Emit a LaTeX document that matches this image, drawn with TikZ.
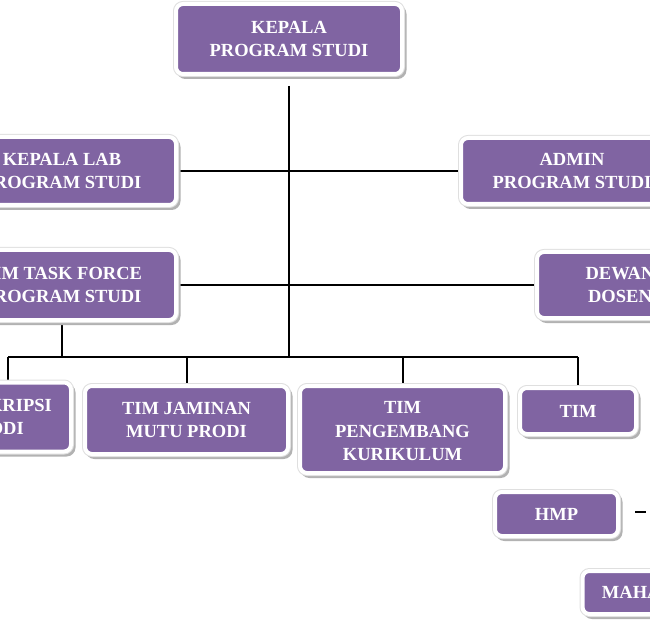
\documentclass[tikz,border=0pt]{standalone}
\usepackage{fontspec}
\setmainfont{Liberation Serif}
\usetikzlibrary{shadows,backgrounds}
\definecolor{purp}{HTML}{8064A2}
\begin{document}
\begin{tikzpicture}[x=1pt,y=-1pt,
  orgbox/.style={rounded corners=7pt, fill=purp, draw=white, line width=4pt,
    text=white, font=\fontsize{18.5}{23}\selectfont\bfseries, align=center, inner sep=0pt,
    general shadow={fill=gray!60, draw=gray!60, line width=4pt, shadow xshift=2.5pt, shadow yshift=-3pt},
    preaction={draw=gray!25, line width=6pt}},
  link/.style={line width=2pt, black}]
\useasboundingbox (0,0) rectangle (650,620);

\node[orgbox, minimum width=226pt, minimum height=70pt] (kepala) at (289,39) {KEPALA\\PROGRAM STUDI};
\node[orgbox, minimum width=228pt, minimum height=68pt] (kepalalab) at (62,171) {KEPALA LAB\\PROGRAM STUDI};
\node[orgbox, minimum width=222pt, minimum height=66pt] (admin) at (572,171) {ADMIN\\PROGRAM STUDI};
\node[orgbox, minimum width=228pt, minimum height=70pt] (taskforce) at (62,285) {TIM TASK FORCE\\PROGRAM STUDI};
\node[orgbox, minimum width=166pt, minimum height=66pt] (dewan) at (620,285) {DEWAN\\DOSEN};
\node[orgbox, minimum width=154pt, minimum height=69pt] (skripsi) at (-6,417) {TIM SKRIPSI\\PRODI};
\node[orgbox, minimum width=203pt, minimum height=68pt] (jaminan) at (186.5,420) {TIM JAMINAN\\MUTU PRODI};
\node[orgbox, minimum width=205pt, minimum height=87pt] (pengembang) at (402.5,429.5) {};
\begin{scope}
  \clip (300,380) rectangle (505,461);
  \node[text=white, font=\fontsize{18.5}{23.5}\selectfont\bfseries, align=center, inner sep=0pt] (pengtext) at (402.5,431.5) {TIM\\PENGEMBANG\\KURIKULUM};
\end{scope}
\node[orgbox, minimum width=116pt, minimum height=46pt] (tim) at (578,411) {TIM};
\node[orgbox, minimum width=123pt, minimum height=44pt] (hmp) at (556.5,514) {HMP};
\node[orgbox, minimum width=155pt, minimum height=43pt] (maha) at (660,592.5) {MAHASISWA};

\coordinate (top) at ([yshift=-10pt]kepala.south);
\coordinate (busL) at (8,356.5);
\coordinate (dashA) at (635,512);
\coordinate (dashB) at (646,512);

\begin{scope}[on background layer]
  \draw[link] (top) -- (top |- busL);
  \draw[link] (kepalalab.east) -- (admin.west);
  \draw[link] (taskforce.east) -- (dewan.west);
  \draw[link] (busL) -- (busL -| tim.north);
  \draw[link] (busL) -- (busL |- skripsi.north);
  \draw[link] (taskforce.south) -- (taskforce.south |- busL);
  \draw[link] (jaminan.north) -- (jaminan.north |- busL);
  \draw[link] (pengembang.north) -- (pengembang.north |- busL);
  \draw[link] (tim.north) -- (tim.north |- busL);
\end{scope}
\draw[link] (dashA) -- (dashB);
\end{tikzpicture}
\end{document}
